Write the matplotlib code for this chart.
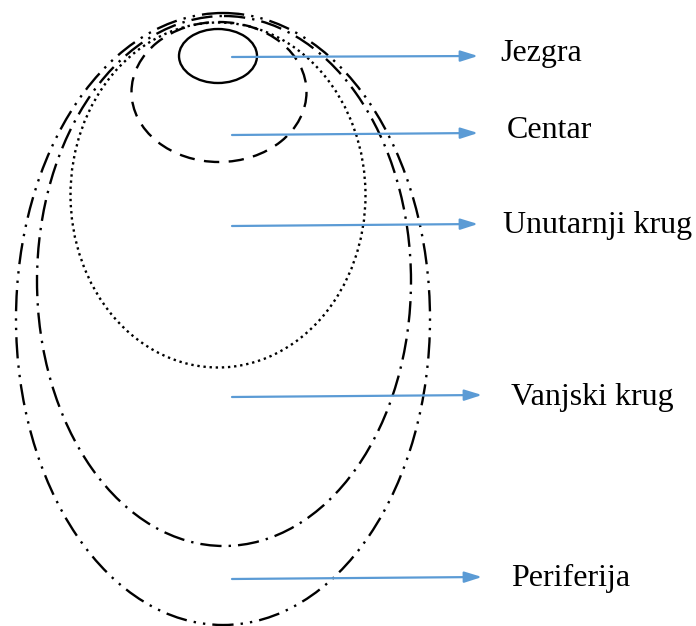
import matplotlib.pyplot as plt
from matplotlib.patches import Ellipse

# layers, from inside to outside
labels = ['Jezgra', 'Centar', 'Unutarnji krug', 'Vanjski krug', 'Periferija']
cx = [218, 219, 218, 224, 223]
cy = [56, 92, 195, 281, 319]
widths = [78, 175, 295, 374, 414]
heights = [54, 140, 345, 530, 612]

# arrows and labels
arrow_y0 = [57, 135, 226, 397, 579]
arrow_y1 = [56, 133, 224, 395, 577]
arrow_x0 = 232
arrow_x1 = [478, 478, 478, 482, 482]
label_x = [500, 507, 503, 511, 511]
label_y = [54, 131, 226, 397, 578]

styles = ['-', (0, (6.5, 4)), (0, (1, 1.6)), (0, (9, 3, 1, 3)), (0, (9, 3, 1, 3, 1, 3))]

fig = plt.figure(figsize=(6.96, 6.26), dpi=100)
ax = fig.add_axes([0, 0, 1, 1])
ax.set_xlim(0, 696)
ax.set_ylim(626, 0)
ax.axis('off')

for i in range(len(labels)):
    ax.add_patch(Ellipse((cx[i], cy[i]), widths[i], heights[i], fill=False,
                         edgecolor='black', lw=1.7, linestyle=styles[i]))
    ax.annotate('', xy=(arrow_x1[i], arrow_y1[i]), xytext=(arrow_x0, arrow_y0[i]),
                arrowprops=dict(arrowstyle='-|>,head_length=0.7,head_width=0.22',
                                color='#5b9bd5', lw=1.6, mutation_scale=15,
                                shrinkA=0, shrinkB=0))
    ax.text(label_x[i], label_y[i], labels[i], fontsize=23, family='Liberation Serif',
            va='center', ha='left')

fig.savefig('out.png', dpi=100)
